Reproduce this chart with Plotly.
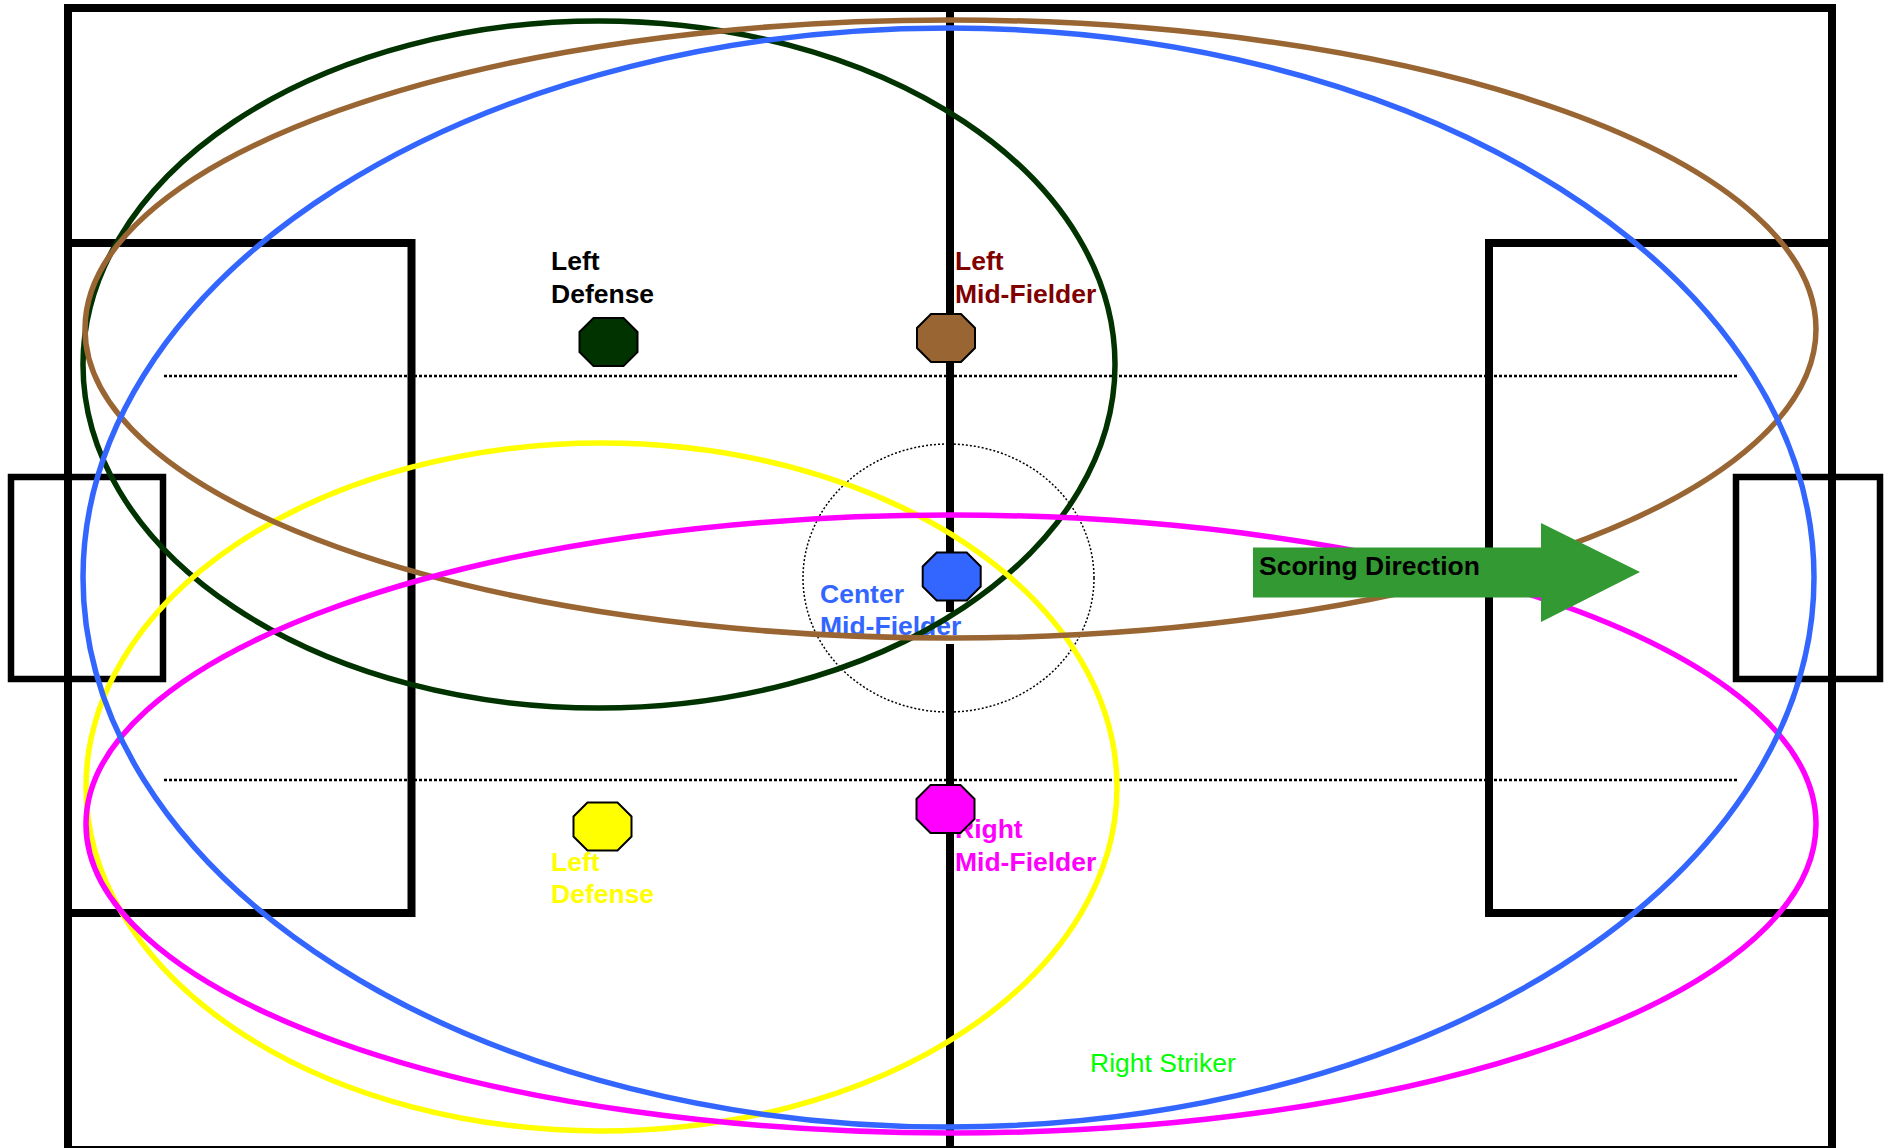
import plotly.graph_objects as go

W, H = 1893, 1148
FONT = "Liberation Sans"
BLACK = "#000000"

# field geometry, in picture pixels
field_names = ["outer", "penalty_left", "penalty_right", "goal_left", "goal_right"]
field_x0 = [68, 68, 1489, 11, 1736]
field_x1 = [1832, 411.5, 1832, 163, 1880]
field_y0 = [8, 243, 243, 477, 477]
field_y1 = [1150, 913, 913, 679, 679]
field_w = [8, 8, 8, 6.5, 6.5]

midline_x = 950
dotted_x = [164, 1738]
dotted_y = [376, 780]
circle_box = [803, 1094, 444, 712]

# coverage ellipses
ell_colors = ["#003300", "#FFFF00", "#996633", "#FF00FF", "#3366FF"]
ell_x0 = [83, 86, 85, 86, 83]
ell_x1 = [1115, 1117, 1816, 1816, 1814]
ell_y0 = [21, 443, 20, 515, 28]
ell_y1 = [708, 1131, 638, 1133, 1127]

# player octagons
oct_x = [608.5, 946, 951.7, 945.5, 602.5]
oct_y = [342, 338, 576.5, 809, 826.5]
oct_colors = ["#003300", "#996633", "#3366FF", "#FF00FF", "#FFFF00"]

# arrow
arrow_left, arrow_base, arrow_tip = 1253, 1541, 1640
arrow_top, arrow_bot = 547.5, 597.5
head_top, head_mid, head_bot = 523, 572, 622

# labels (one entry per printed line)
label_text = ["Left", "Defense", "Left", "Mid-Fielder", "Center", "Mid-Fielder",
              "Right", "Mid-Fielder", "Left", "Defense", "Right Striker"]
label_x = [551, 551, 955, 955, 820, 820, 955, 955, 551, 551, 1090]
label_base = [273, 306, 273, 306, 606, 638, 841, 874, 874, 906, 1075]
label_color = ["#000000", "#000000", "#800000", "#800000", "#3366FF", "#3366FF",
               "#FF00FF", "#FF00FF", "#FFFF00", "#FFFF00", "#00FF00"]
label_bold = [True] * 10 + [False]

shapes = []
for i in range(len(field_names)):
    shapes.append(dict(type="rect", x0=field_x0[i], x1=field_x1[i], y0=field_y0[i], y1=field_y1[i],
                       line=dict(color=BLACK, width=field_w[i]), layer="below"))
shapes.append(dict(type="line", x0=midline_x, x1=midline_x, y0=8, y1=1150,
                   line=dict(color=BLACK, width=8), layer="below"))
for y in dotted_y:
    shapes.append(dict(type="line", x0=dotted_x[0], x1=dotted_x[1], y0=y, y1=y,
                       line=dict(color=BLACK, width=2.5, dash="3px,2px"), layer="below"))
shapes.append(dict(type="circle", x0=circle_box[0], x1=circle_box[1], y0=circle_box[2], y1=circle_box[3],
                   line=dict(color=BLACK, width=1.5, dash="2px,2px"), layer="below"))
shapes.append(dict(type="rect", x0=944, x1=956, y0=612, y1=644, fillcolor="white",
                   line=dict(width=0), layer="below"))

for c, x0, x1, y0, y1 in zip(ell_colors, ell_x0, ell_x1, ell_y0, ell_y1):
    shapes.append(dict(type="circle", x0=x0, x1=x1, y0=y0, y1=y1,
                       line=dict(color=c, width=5.5), layer="above"))


def octagon(cx, cy, hw=29, hh=24, c=14):
    pts = [(cx - hw + c, cy - hh), (cx + hw - c, cy - hh), (cx + hw, cy - hh + c), (cx + hw, cy + hh - c),
           (cx + hw - c, cy + hh), (cx - hw + c, cy + hh), (cx - hw, cy + hh - c), (cx - hw, cy - hh + c)]
    return "M " + " L ".join(f"{x} {y}" for x, y in pts) + " Z"


for x, y, c in zip(oct_x, oct_y, oct_colors):
    shapes.append(dict(type="path", path=octagon(x, y), fillcolor=c,
                       line=dict(color=BLACK, width=2), layer="above"))

arrow_pts = [(arrow_left, arrow_top), (arrow_base, arrow_top), (arrow_base, head_top), (arrow_tip, head_mid),
             (arrow_base, head_bot), (arrow_base, arrow_bot), (arrow_left, arrow_bot)]
shapes.append(dict(type="path", path="M " + " L ".join(f"{x} {y}" for x, y in arrow_pts) + " Z",
                   fillcolor="#339933", line=dict(width=0), layer="above"))

fig = go.Figure()
FS = 26.5
for t, x, b, c, bold in zip(label_text, label_x, label_base, label_color, label_bold):
    fig.add_trace(go.Scatter(
        x=[x], y=[b - 0.36 * FS], mode="text", text=[f"<b>{t}</b>" if bold else t],
        textposition="middle right", textfont=dict(family=FONT, size=FS, color=c),
        hoverinfo="skip", showlegend=False))

fig.add_annotation(x=1259, y=575.9 - 0.36 * FS, text="<b>Scoring Direction</b>", showarrow=False,
                   xanchor="left", yanchor="middle", xref="x", yref="y",
                   font=dict(family=FONT, size=FS, color="#000000"), borderpad=0, borderwidth=0)

fig.update_layout(
    width=W, height=H, margin=dict(l=0, r=0, t=0, b=0),
    paper_bgcolor="white", plot_bgcolor="white", showlegend=False, shapes=shapes,
    xaxis=dict(range=[0, W], visible=False, fixedrange=True),
    yaxis=dict(range=[H, 0], visible=False, fixedrange=True),
)
fig.write_html("out.html", config=dict(displayModeBar=False),
               post_script="document.body.style.margin='0';document.body.style.overflow='hidden';")
